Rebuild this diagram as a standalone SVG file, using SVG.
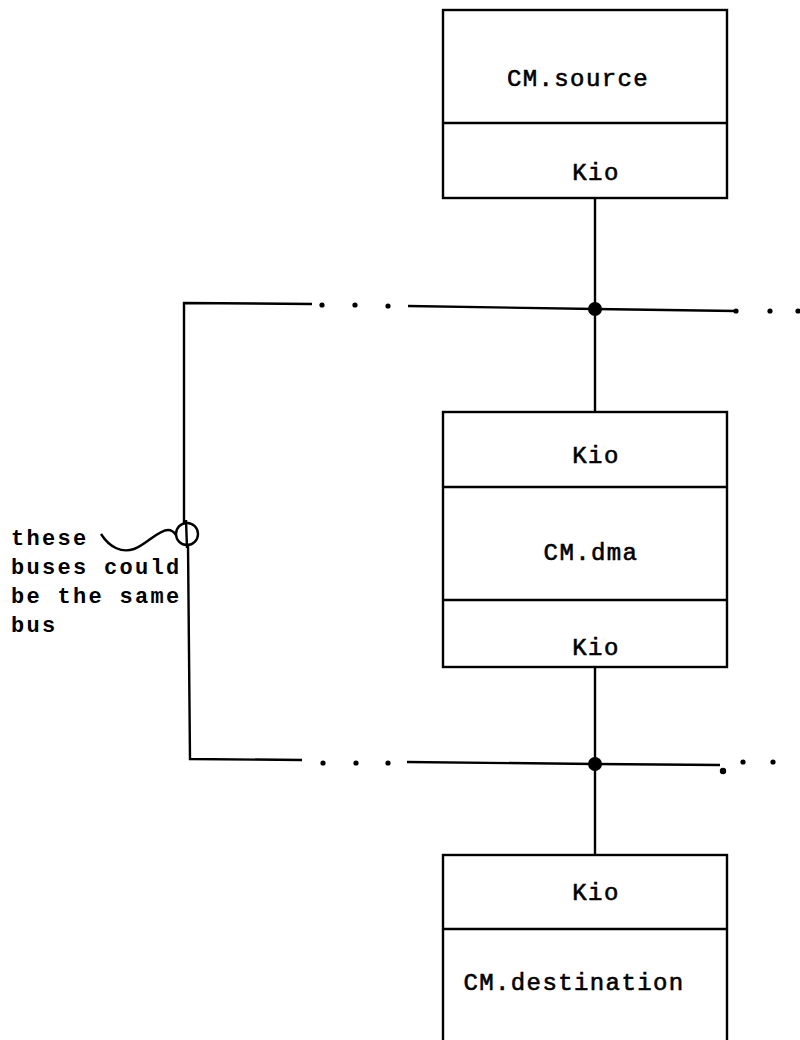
<svg xmlns="http://www.w3.org/2000/svg" width="800" height="1040" viewBox="0 0 800 1040">
<style>
.box{fill:none;stroke:#000;stroke-width:2.4}
.ln{fill:none;stroke:#000;stroke-width:2.4}
.t{font-family:"Liberation Mono","DejaVu Sans Mono",monospace;font-size:24px;letter-spacing:1.4px;fill:#000;stroke:#000;stroke-width:0.6;text-anchor:middle}
.a{font-family:"Liberation Mono","DejaVu Sans Mono",monospace;font-size:22px;font-weight:bold;letter-spacing:2.3px;fill:#000}
.dot{fill:#000}
</style>
<rect width="800" height="1040" fill="#fff"/>
<g id="connectors">
  <line class="ln" x1="595" y1="198" x2="595" y2="412"/>
  <line class="ln" x1="595" y1="668" x2="595" y2="855"/>
  <polyline class="ln" points="184,523 184,303 312,304"/>
  <circle class="dot" cx="322" cy="305" r="2.6"/>
  <circle class="dot" cx="355" cy="305" r="2.6"/>
  <circle class="dot" cx="388" cy="306" r="2.6"/>
  <line class="ln" x1="408" y1="306" x2="595" y2="309"/>
  <line class="ln" x1="595" y1="309" x2="736" y2="311"/>
  <circle class="dot" cx="736" cy="311" r="2.6"/>
  <circle class="dot" cx="770" cy="311" r="2.6"/>
  <circle class="dot" cx="798" cy="311" r="2.6"/>
  <circle class="dot" cx="595" cy="309" r="7"/>
  <polyline class="ln" points="188,545 190,759 302,760"/>
  <circle class="dot" cx="323" cy="763" r="2.6"/>
  <circle class="dot" cx="356" cy="763" r="2.6"/>
  <circle class="dot" cx="388" cy="763" r="2.6"/>
  <line class="ln" x1="407" y1="762" x2="595" y2="764"/>
  <line class="ln" x1="595" y1="764" x2="720" y2="765"/>
  <circle class="dot" cx="723" cy="771" r="3.2"/>
  <circle class="dot" cx="743" cy="762" r="2.6"/>
  <circle class="dot" cx="773" cy="762" r="2.6"/>
  <circle class="dot" cx="595" cy="764" r="7"/>
</g>
<g id="annotation">
  <line class="ln" x1="186" y1="520" x2="187" y2="548"/>
  <circle cx="187" cy="534" r="11" fill="none" stroke="#000" stroke-width="2.4"/>
  <path class="ln" d="M101,534 C110,548 122,553 134,549 C146,545 158,530 168,530 C172,530 174,532 176,535"/>
  <text class="a" x="11" y="545">these</text>
  <text class="a" x="11" y="574">buses could</text>
  <text class="a" x="11" y="603">be the same</text>
  <text class="a" x="11" y="632">bus</text>
</g>
<g id="source">
  <rect class="box" x="443" y="10" width="284" height="188"/>
  <line class="box" x1="443" y1="123" x2="727" y2="123"/>
  <text class="t" x="578" y="86">CM.source</text>
  <text class="t" x="596" y="180">Kio</text>
</g>
<g id="dma">
  <rect class="box" x="443" y="412" width="284" height="255"/>
  <line class="box" x1="443" y1="487" x2="727" y2="487"/>
  <line class="box" x1="443" y1="600" x2="727" y2="600"/>
  <text class="t" x="596" y="463">Kio</text>
  <text class="t" x="591" y="560">CM.dma</text>
  <text class="t" x="596" y="655">Kio</text>
</g>
<g id="destination">
  <rect class="box" x="443" y="855" width="284" height="200"/>
  <line class="box" x1="443" y1="929" x2="727" y2="929"/>
  <text class="t" x="596" y="900">Kio</text>
  <text class="t" x="574" y="990">CM.destination</text>
</g>
</svg>
